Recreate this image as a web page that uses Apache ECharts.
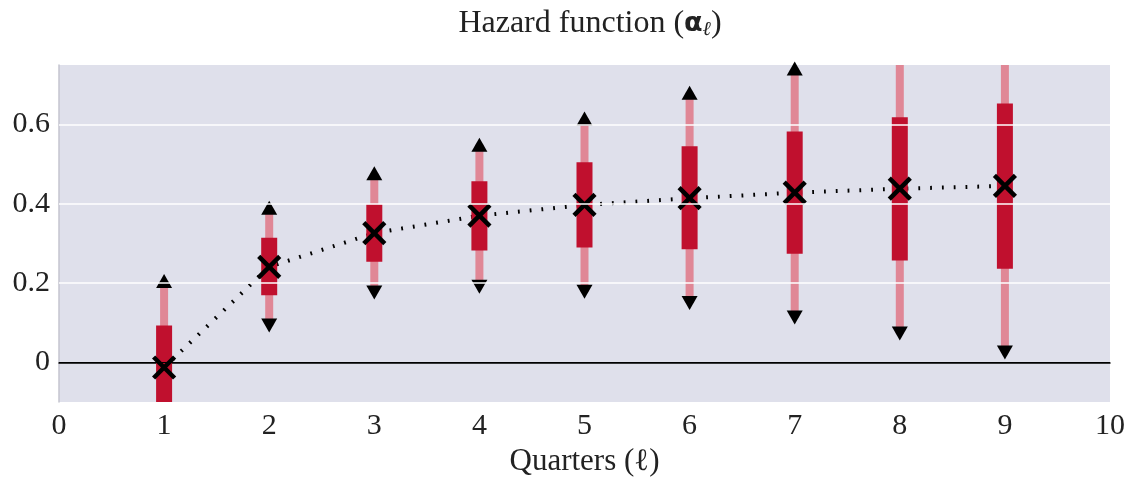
<!DOCTYPE html>
<html>
<head>
<meta charset="utf-8">
<script src="https://cdn.jsdelivr.net/npm/echarts@6/dist/echarts.min.js"></script>
<style>
  html, body { margin: 0; padding: 0; background: #fff; }
  #chart { width: 1128px; height: 482px; }
</style>
</head>
<body>
<div id="chart"></div>
<script>
const quarters = [1, 2, 3, 4, 5, 6, 7, 8, 9]
const estimate = [-0.013, 0.241, 0.326, 0.370, 0.397, 0.414, 0.428, 0.438, 0.445]
const innerLow = [-0.119, 0.169, 0.254, 0.282, 0.290, 0.285, 0.274, 0.257, 0.236]
const innerHigh = [0.093, 0.314, 0.399, 0.457, 0.505, 0.545, 0.582, 0.618, 0.653]
const outerLow = [-0.231, 0.093, 0.176, 0.191, 0.178, 0.150, 0.113, 0.073, 0.025]
const outerHigh = [0.205, 0.390, 0.477, 0.549, 0.615, 0.680, 0.741, 0.803, 0.865]
const yTicks = [0, 0.2, 0.4, 0.6]

const yMin = -0.1
const yMax = 0.75
const serif = "'Liberation Serif', 'DejaVu Serif', serif"
const darkRed = '#c0102e'
const lightRed = '#e08796'

let chart = echarts.init(document.getElementById('chart'), null, { renderer: 'canvas' })

// bars (light = outer interval, dark = inner interval) plus arrow heads
function renderBars(params, api) {
  const x = api.value(0)
  const cs = params.coordSys
  const area = { x: cs.x, y: cs.y, width: cs.width, height: cs.height }
  const children = []
  const pairs = [[1, 2, 8, lightRed], [3, 4, 16, darkRed]]
  pairs.forEach(([lo, hi, w, color]) => {
    const top = api.coord([x, api.value(hi)])
    const bot = api.coord([x, api.value(lo)])
    const rect = echarts.graphic.clipRectByRect({
      x: top[0] - w / 2, y: top[1], width: w, height: bot[1] - top[1]
    }, area)
    if (rect) children.push({ type: 'rect', shape: rect, style: { fill: color } })
  })
  const hw = 8, hh = 7
  const up = api.value(2), down = api.value(1)
  if (up <= yMax && up >= yMin) {
    const p = api.coord([x, up])
    children.push({ type: 'polygon', shape: { points: [[p[0] - hw, p[1] + hh], [p[0] + hw, p[1] + hh], [p[0], p[1] - hh]] }, style: { fill: '#000' } })
  }
  if (down <= yMax && down >= yMin) {
    const p = api.coord([x, down])
    children.push({ type: 'polygon', shape: { points: [[p[0] - hw, p[1] - hh], [p[0] + hw, p[1] - hh], [p[0], p[1] + hh]] }, style: { fill: '#000' } })
  }
  return { type: 'group', children: children }
}

// X marker at the estimate
function renderCross(params, api) {
  const p = api.coord([api.value(0), api.value(1)])
  const s = 10.5
  const style = { stroke: '#000', lineWidth: 4.5 }
  return {
    type: 'group',
    children: [
      { type: 'line', shape: { x1: p[0] - s, y1: p[1] - s, x2: p[0] + s, y2: p[1] + s }, style: style },
      { type: 'line', shape: { x1: p[0] - s, y1: p[1] + s, x2: p[0] + s, y2: p[1] - s }, style: style }
    ]
  }
}

const option = {
  animation: false,
  title: {
    text: 'Hazard function ({a|α}{s|ℓ})',
    left: 585,
    top: 3,
    textAlign: 'center',
    textStyle: {
      fontFamily: serif, fontSize: 32, fontWeight: 'normal', color: '#222',
      rich: {
        a: { fontFamily: "'DejaVu Sans', sans-serif", fontSize: 27, fontWeight: 'bold', color: '#222' },
        s: { fontFamily: serif, fontStyle: 'italic', fontSize: 20, color: '#222', verticalAlign: 'bottom', padding: [12, 0, 0, 0] }
      }
    }
  },
  grid: {
    left: 59, right: 16, top: 65, bottom: 78,
    show: true, backgroundColor: '#dfe0eb', borderWidth: 0
  },
  xAxis: {
    type: 'value', min: 0, max: 10, interval: 1,
    name: 'Quarters (ℓ)', nameLocation: 'middle', nameGap: 44,
    nameTextStyle: { fontFamily: serif, fontSize: 31, color: '#222' },
    axisLine: { show: true, lineStyle: { color: '#000', width: 1.5 } },
    axisTick: { show: false },
    splitLine: { show: false },
    axisLabel: { fontFamily: serif, fontSize: 30, color: '#222', margin: 9 }
  },
  yAxis: {
    type: 'value', min: yMin, max: yMax, interval: 0.1,
    axisLine: { show: true, lineStyle: { color: '#c4c5cf', width: 1.5 } },
    axisTick: { show: false },
    splitLine: { show: false },
    axisLabel: {
      fontFamily: serif, fontSize: 30, color: '#222', margin: 9,
      formatter: function (v) {
        const k = Math.round(v * 10)
        if (k < 0 || k % 2 !== 0 || k > 6) return ''
        return k === 0 ? '0' : (k / 10).toFixed(1)
      }
    }
  },
  series: [
    {
      type: 'line', data: [], silent: true, z: 0,
      markLine: {
        silent: true, symbol: 'none', label: { show: false },
        data: yTicks.map(v => ({
          yAxis: v,
          lineStyle: v === 0 ? { color: '#000', width: 1.2, type: 'solid' } : { color: '#fff', width: 1.5, type: 'solid' }
        }))
      }
    },
    {
      type: 'line', z: 1, silent: true, symbol: 'none',
      data: quarters.map((q, i) => [q, estimate[i]]),
      lineStyle: { color: '#000', width: 4, type: [1.8, 10] }
    },
    {
      type: 'custom', z: 2, silent: true, clip: false,
      renderItem: renderBars,
      data: quarters.map((q, i) => [q, outerLow[i], outerHigh[i], innerLow[i], innerHigh[i]])
    },
    {
      type: 'custom', z: 4, silent: true,
      renderItem: renderCross,
      data: quarters.map((q, i) => [q, estimate[i]])
    }
  ]
}

chart.setOption(option)
</script>
</body>
</html>
